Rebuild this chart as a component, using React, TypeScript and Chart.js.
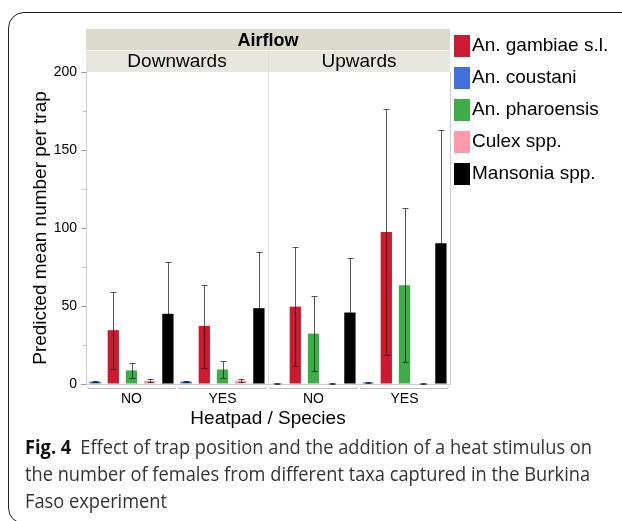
import React, { useEffect, useLayoutEffect, useRef } from "react";
import { Chart, registerables } from "chart.js";

Chart.register(...registerables);

// ---------- data ----------
const panels = ["Downwards", "Upwards"];
const heatpad = ["NO", "YES", "NO", "YES"];
const species = ["An. gambiae s.l.", "An. coustani", "An. pharoensis", "Culex spp.", "Mansonia spp."];
const speciesColors = ["#CC1B30", "#4070DC", "#3DAE47", "#FF9AA8", "#000000"];
// position of each species inside a heatpad group (blue first on the plot)
const slotOrder = [1, 0, 2, 3, 4];

// predicted means per condition: Down-NO, Down-YES, Up-NO, Up-YES
const gambiaeMean = [34.5, 37.3, 49.6, 97.5];
const coustaniMean = [1.5, 1.6, 0.5, 1.0];
const pharoensisMean = [8.7, 9.3, 32.3, 63.3];
const culexMean = [2.0, 2.2, 0.2, 0.3];
const mansoniaMean = [45.0, 48.6, 45.8, 90.2];

const gambiaeLow = [9.8, 10.2, 11.3, 18.9];
const gambiaeHigh = [58.7, 63.7, 87.9, 176.4];
const coustaniLow = [1.0, 1.1, 0.2, 0.6];
const coustaniHigh = [2.0, 2.1, 0.8, 1.5];
const pharoensisLow = [3.8, 3.8, 8.3, 14.3];
const pharoensisHigh = [13.6, 14.5, 56.2, 112.7];
const culexLow = [1.0, 1.2, 0.1, 0.1];
const culexHigh = [3.1, 3.2, 0.4, 0.5];
const mansoniaLow = [20.0, 22.0, 20.0, 40.0];
const mansoniaHigh = [78.2, 84.5, 80.9, 162.7];

const yMax = 200;
const yMajorStep = 50;
const yMinorTicks = [25, 75, 125, 175];

const means = [gambiaeMean, coustaniMean, pharoensisMean, culexMean, mansoniaMean];
const lows = [gambiaeLow, coustaniLow, pharoensisLow, culexLow, mansoniaLow];
const highs = [gambiaeHigh, coustaniHigh, pharoensisHigh, culexHigh, mansoniaHigh];

const FONT = "'Liberation Sans', Arial, Helvetica, sans-serif";

const slotLabels: string[] = [];
for (let g = 0; g < 4; g++) {
  for (let k = 0; k < 5; k++) {
    const s = slotOrder.indexOf(k);
    slotLabels.push(panels[Math.floor(g / 2)] + " " + heatpad[g] + " " + species[s]);
  }
}

const facetPlugin = {
  id: "facets",
  beforeDraw(chart: any) {
    const { ctx, chartArea } = chart;
    const xs = chart.scales.x;
    const ys = chart.scales.y;
    const cw = xs.getPixelForValue(1) - xs.getPixelForValue(0);
    const mid = (xs.getPixelForValue(9) + xs.getPixelForValue(10)) / 2;
    ctx.save();
    ctx.fillStyle = "#DCDACB";
    ctx.fillRect(chartArea.left, 29, chartArea.right - chartArea.left, 21);
    ctx.fillStyle = "#E8E7DF";
    ctx.fillRect(chartArea.left, 50, chartArea.right - chartArea.left, chartArea.top - 50);
    ctx.strokeStyle = "#F4F3EE";
    ctx.lineWidth = 1;
    ctx.beginPath();
    ctx.moveTo(chartArea.left, 50.5);
    ctx.lineTo(chartArea.right, 50.5);
    ctx.stroke();
    ctx.fillStyle = "#000";
    ctx.textAlign = "center";
    ctx.textBaseline = "alphabetic";
    ctx.font = "bold 18px " + FONT;
    ctx.fillText("Airflow", (chartArea.left + chartArea.right) / 2, 45.5);
    ctx.font = "19px " + FONT;
    ctx.fillText(panels[0], (chartArea.left + mid) / 2, 67);
    ctx.fillText(panels[1], (mid + chartArea.right) / 2, 67);
    ctx.strokeStyle = "#DDDDDD";
    ctx.beginPath();
    ctx.moveTo(mid + 0.5, 50);
    ctx.lineTo(mid + 0.5, chartArea.bottom);
    ctx.stroke();
    ctx.strokeStyle = "#CCCCCC";
    ctx.beginPath();
    ctx.moveTo(chartArea.right + 0.5, chartArea.top);
    ctx.lineTo(chartArea.right + 0.5, chartArea.bottom);
    ctx.stroke();
    // minor y ticks
    ctx.strokeStyle = "#BBBBBB";
    for (const v of yMinorTicks) {
      const y = Math.round(ys.getPixelForValue(v)) + 0.5;
      ctx.beginPath();
      ctx.moveTo(chartArea.left - 3, y);
      ctx.lineTo(chartArea.left, y);
      ctx.stroke();
    }
    // group brackets
    ctx.strokeStyle = "#BBBBBB";
    for (let g = 0; g < 4; g++) {
      const l = xs.getPixelForValue(5 * g) - cw / 2 + 2;
      const r = xs.getPixelForValue(5 * g + 4) + cw / 2 - 2;
      const y = chartArea.bottom + 4.5;
      ctx.beginPath();
      ctx.moveTo(l, y - 2);
      ctx.lineTo(l, y);
      ctx.lineTo(r, y);
      ctx.lineTo(r, y - 2);
      ctx.stroke();
    }
    ctx.restore();
  },
};

const errorBarPlugin = {
  id: "errorBars",
  afterDatasetsDraw(chart: any) {
    const { ctx } = chart;
    const ys = chart.scales.y;
    ctx.save();
    ctx.strokeStyle = "rgba(0,0,0,0.65)";
    ctx.lineWidth = 1;
    for (let s = 0; s < species.length; s++) {
      const meta = chart.getDatasetMeta(s);
      for (let g = 0; g < 4; g++) {
        const el = meta.data[5 * g + slotOrder[s]];
        if (!el) continue;
        const x = Math.round(el.x) + 0.5;
        const y1 = Math.round(ys.getPixelForValue(lows[s][g])) + 0.5;
        const y2 = Math.round(ys.getPixelForValue(highs[s][g])) + 0.5;
        ctx.beginPath();
        ctx.moveTo(x, y1);
        ctx.lineTo(x, y2);
        ctx.moveTo(x - 3, y1);
        ctx.lineTo(x + 3, y1);
        ctx.moveTo(x - 3, y2);
        ctx.lineTo(x + 3, y2);
        ctx.stroke();
      }
    }
    ctx.restore();
  },
};

const legendPlugin = {
  id: "speciesLegend",
  afterDraw(chart: any) {
    const { ctx, chartArea } = chart;
    ctx.save();
    ctx.font = "19px " + FONT;
    ctx.textAlign = "left";
    ctx.textBaseline = "middle";
    for (let i = 0; i < species.length; i++) {
      const x = chartArea.right + 4;
      const y = 35 + i * 32;
      ctx.fillStyle = speciesColors[i];
      ctx.fillRect(x, y, 16, 22);
      ctx.fillStyle = "#000";
      ctx.fillText(species[i], x + 18, y + 11);
    }
    ctx.restore();
  },
};

function ChartCanvas() {
  const ref = useRef<HTMLCanvasElement | null>(null);
  useEffect(() => {
    if (!ref.current) return;
    const datasets = species.map((name, s) => {
      const data: (number | null)[] = new Array(20).fill(null);
      for (let g = 0; g < 4; g++) data[5 * g + slotOrder[s]] = means[s][g];
      return {
        label: name,
        data,
        backgroundColor: speciesColors[s],
        borderWidth: 0,
        grouped: false,
        skipNull: true,
        categoryPercentage: 1,
        barPercentage: 0.62,
      };
    });
    const chart = new Chart(ref.current, {
      type: "bar",
      data: { labels: slotLabels, datasets },
      options: {
        animation: false,
        responsive: true,
        maintainAspectRatio: false,
        layout: { padding: { left: 8, right: 172, top: 72, bottom: 0 } },
        plugins: { legend: { display: false }, tooltip: { enabled: false } },
        scales: {
          x: {
            type: "category",
            offset: true,
            grid: { display: false, drawTicks: false },
            border: { display: true, color: "#CCCCCC" },
            ticks: {
              autoSkip: false,
              maxRotation: 0,
              padding: 7,
              color: "#000",
              font: { family: FONT, size: 14 },
              callback: (_v: any, i: number) => (i % 5 === 2 ? heatpad[Math.floor(i / 5)] : ""),
            },
            title: {
              display: true,
              text: "Heatpad / Species",
              color: "#000",
              font: { family: FONT, size: 19 },
              padding: { top: 0, bottom: 6 },
            },
            afterFit: (scale: any) => {
              scale.height = 52;
            },
          },
          y: {
            type: "linear",
            min: 0,
            max: yMax,
            grid: { drawOnChartArea: false, drawTicks: true, tickLength: 5, tickColor: "#999999" },
            border: { display: true, color: "#CCCCCC" },
            ticks: {
              stepSize: yMajorStep,
              padding: 4,
              color: "#000",
              font: { family: FONT, size: 14 },
            },
            title: {
              display: true,
              text: "Predicted mean number per trap",
              color: "#000",
              font: { family: FONT, size: 19 },
              padding: { top: 21, bottom: 0 },
            },
            afterFit: (scale: any) => {
              scale.width = 78;
            },
          },
        },
      },
      plugins: [facetPlugin, errorBarPlugin, legendPlugin],
    });
    return () => chart.destroy();
  }, []);
  return (
    <div style={{ position: "absolute", left: 0, top: 0, width: 622, height: 436 }}>
      <canvas ref={ref} />
    </div>
  );
}

function Caption() {
  const boxRef = useRef<HTMLDivElement | null>(null);
  const firstRef = useRef<HTMLSpanElement | null>(null);
  useLayoutEffect(() => {
    const box = boxRef.current;
    const first = firstRef.current;
    if (!box || !first) return;
    const w = first.getBoundingClientRect().width;
    if (w > 0) box.style.transform = "scaleX(" + 567 / w + ")";
  }, []);
  const lineStyle: React.CSSProperties = { height: 27, lineHeight: "27px", whiteSpace: "nowrap" };
  return (
    <div
      ref={boxRef}
      style={{
        position: "absolute",
        left: 25,
        top: 433,
        fontFamily: "'Open Sans', 'Noto Sans', sans-serif",
        fontSize: 20,
        color: "#333",
        transformOrigin: "left top",
      }}
    >
      <div style={lineStyle}>
        <span ref={firstRef} style={{ display: "inline-block" }}>
          <b style={{ color: "#111" }}>Fig. 4</b>
          <span style={{ marginLeft: 10 }}>Effect of trap position and the addition of a heat stimulus on</span>
        </span>
      </div>
      <div style={lineStyle}>the number of females from different taxa captured in the Burkina</div>
      <div style={lineStyle}>Faso experiment</div>
    </div>
  );
}

export default function App() {
  useEffect(() => {
    document.documentElement.style.overflow = "hidden";
    document.body.style.overflow = "hidden";
  }, []);
  return (
    <div>
      <div
        style={{
          position: "absolute",
          left: 8,
          top: 12,
          width: 700,
          height: 512,
          border: "1.5px solid #222",
          borderRadius: 16,
          boxSizing: "border-box",
        }}
      />
      <ChartCanvas />
      <Caption />
    </div>
  );
}
